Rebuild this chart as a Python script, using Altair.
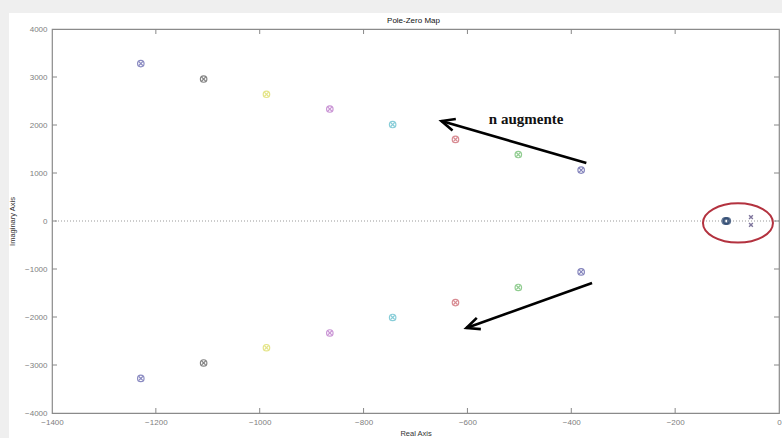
import altair as alt
import pandas as pd

# ---- data ----
pole_re = [-1229, -1108, -987, -865, -744, -623, -502, -381]
pole_im = [3280, 2958, 2640, 2333, 2010, 1700, 1385, 1060]
pole_colors = ["#5a5aa8", "#505050", "#dada55", "#b468c4", "#55b8c8", "#c85a64", "#62b862", "#5050a0"]

zero_re = [-103, -100]
zero_im = [0, 0]
near_pole_re = [-54, -54]
near_pole_im = [80, -80]

x_ticks = [-1400, -1200, -1000, -800, -600, -400, -200, 0]
y_ticks = [-4000, -3000, -2000, -1000, 0, 1000, 2000, 3000, 4000]

arrow_start_re = [-371, -360]
arrow_start_im = [1208, -1290]
arrow_end_re = [-650, -602]
arrow_end_im = [2083, -2230]
arrow_angle = [196, 160]

label_text = ["n augmente"]
label_re = [-487]
label_im = [2130]

ellipse_re = [-79]
ellipse_im = [-40]

title_text = ["Pole-Zero Map"]

W, H = 727, 384

rows = []
for r, i, c in zip(pole_re, pole_im, pole_colors):
    rows.append({"re": r, "im": i, "c": c})
    rows.append({"re": r, "im": -i, "c": c})
poles = pd.DataFrame(rows)

xs = alt.Scale(domain=[-1400, 0], nice=False, zero=False)
ys = alt.Scale(domain=[-4000, 4000], nice=False, zero=False)

X = lambda f: alt.X(f, type="quantitative", scale=xs,
                    axis=alt.Axis(values=x_ticks, title="Real Axis", ticks=False, domain=False,
                                  grid=False, labelPadding=5, titlePadding=3, labelFlush=False,
                                  format="d"))
Y = lambda f: alt.Y(f, type="quantitative", scale=ys,
                    axis=alt.Axis(values=y_ticks, title="Imaginary Axis", ticks=False, domain=False,
                                  grid=False, labelPadding=5, titlePadding=8, format="d"))

dummy = pd.DataFrame({"a": [0]})

# light grey window border strips (left and top)
strip_left = alt.Chart(dummy).mark_rect(color="#efefef").encode(
    x=alt.value(-52), x2=alt.value(-43), y=alt.value(-29), y2=alt.value(H + 25))
strip_top = alt.Chart(dummy).mark_rect(color="#efefef").encode(
    x=alt.value(-52), x2=alt.value(W + 5), y=alt.value(-29), y2=alt.value(-16))

title = alt.Chart(pd.DataFrame({"t": title_text})).mark_text(
    font="Liberation Sans", fontSize=8, color="#111111", baseline="middle").encode(
    x=alt.value(W / 2 - 2), y=alt.value(-8), text="t:N")

zero_line = alt.Chart(pd.DataFrame({"im": [0]})).mark_rule(
    color="#999999", strokeDash=[1, 2], strokeWidth=1).encode(y=Y("im"))

xt = pd.DataFrame({"v": x_ticks[1:-1]})
yt = pd.DataFrame({"v": y_ticks[1:-1]})
tick_col = "#888888"
tb = alt.Chart(xt).mark_rule(color=tick_col).encode(x=X("v"), y=alt.value(H), y2=alt.value(H - 5))
tt = alt.Chart(xt).mark_rule(color=tick_col).encode(x=X("v"), y=alt.value(0), y2=alt.value(5))
tl = alt.Chart(yt).mark_rule(color=tick_col).encode(y=Y("v"), x=alt.value(0), x2=alt.value(5))
tr = alt.Chart(yt).mark_rule(color=tick_col).encode(y=Y("v"), x=alt.value(W), x2=alt.value(W - 5))

circ = alt.Chart(poles).mark_point(shape="circle", size=42, strokeWidth=1.2, filled=False).encode(
    x=X("re"), y=Y("im"), color=alt.Color("c:N", scale=None))
cross_path = "M -0.6 -0.6 L 0.6 0.6 M -0.6 0.6 L 0.6 -0.6"
crs = alt.Chart(poles).mark_point(shape=cross_path, size=42, strokeWidth=1.2, filled=False).encode(
    x=X("re"), y=Y("im"), color=alt.Color("c:N", scale=None))

zeros = alt.Chart(pd.DataFrame({"re": zero_re, "im": zero_im})).mark_point(
    shape="circle", size=34, strokeWidth=2.4, filled=False, color="#23406a").encode(x=X("re"), y=Y("im"))
xmark = alt.Chart(pd.DataFrame({"re": near_pole_re, "im": near_pole_im})).mark_point(
    shape=cross_path, size=40, strokeWidth=1.4, filled=False, color="#4a3d75").encode(x=X("re"), y=Y("im"))

ell_path = ("M 1 0 C 1 0.309 0.552 0.56 0 0.56 C -0.552 0.56 -1 0.309 -1 0 "
            "C -1 -0.309 -0.552 -0.56 0 -0.56 C 0.552 -0.56 1 -0.309 1 0 Z")
ellipse = alt.Chart(pd.DataFrame({"re": ellipse_re, "im": ellipse_im})).mark_point(
    shape=ell_path, size=4900, strokeWidth=2, filled=False, color="#b3323f", opacity=1).encode(
    x=X("re"), y=Y("im"))

arr = pd.DataFrame({"x1": arrow_start_re, "y1": arrow_start_im, "x2": arrow_end_re,
                    "y2": arrow_end_im, "ang": arrow_angle})
shafts = alt.Chart(arr).mark_rule(color="black", strokeWidth=2.6).encode(
    x=X("x1"), y=Y("y1"), x2="x2", y2="y2")
head_path = "M -1 -0.45 L 0 0 L -1 0.45"
heads = alt.Chart(arr).mark_point(shape=head_path, size=700, strokeWidth=2.6, filled=False,
                                  color="black", opacity=1).encode(
    x=X("x2"), y=Y("y2"), angle=alt.Angle("ang:Q", scale=None))

label = alt.Chart(pd.DataFrame({"t": label_text, "re": label_re, "im": label_im})).mark_text(
    font="Liberation Serif", fontWeight="bold", fontSize=15, color="#111111").encode(
    x=X("re"), y=Y("im"), text="t:N")

chart = alt.layer(strip_left, strip_top, title, zero_line, tb, tt, tl, tr, circ, crs, zeros, xmark,
                  ellipse, shafts, heads, label).properties(
    width=W, height=H,
    autosize=alt.AutoSizeParams(type="none"),
    padding={"left": 52, "top": 29, "right": 3, "bottom": 25},
    background="white",
).configure_view(stroke="#8a8a8a", strokeWidth=1.2, fill="white").configure_axis(
    labelFont="Liberation Sans", labelFontSize=8, labelColor="#808080",
    titleFont="Liberation Sans", titleFontSize=7.5, titleColor="#333333", titleFontWeight="normal")

chart.save("out.html", embed_options={"renderer": "svg", "actions": False})
